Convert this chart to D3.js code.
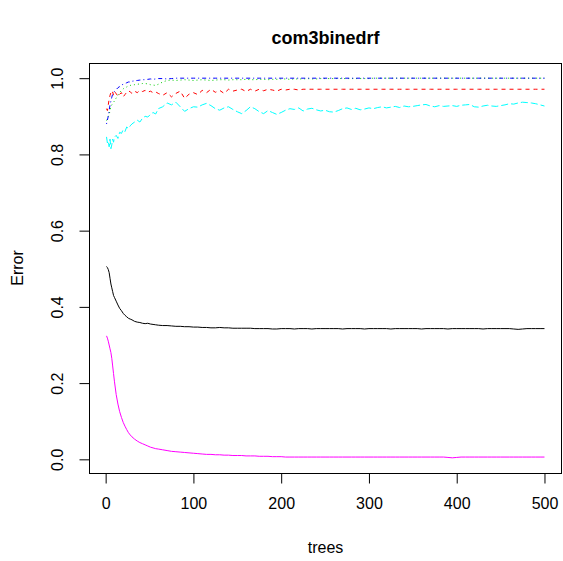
<!DOCTYPE html>
<html>
<head>
<meta charset="utf-8">
<script src="https://cdn.jsdelivr.net/npm/d3@7"></script>
<style>
  body { margin: 0; background: #fff; }
  svg { display: block; font-family: "Liberation Sans", Arial, sans-serif; }
</style>
</head>
<body>
<svg width="563" height="561"></svg>
<script>
// number of trees at each sampled point
var trees = [1,2,3,4,5,6,7,8,9,10,
  12,14,16,18,20,22,24,26,28,30,
  33,36,39,42,45,48,51,54,57,60,
  65,70,75,80,85,90,95,100,
  105,110,115,120,125,130,135,140,145,150,
  155,160,165,170,175,180,185,190,195,200,
  205,210,215,220,225,230,235,240,245,250,
  255,260,265,270,275,280,285,290,295,300,
  305,310,315,320,325,330,335,340,345,350,
  355,360,365,370,375,380,385,390,395,400,
  405,410,415,420,425,430,435,440,445,450,
  455,460,465,470,475,480,485,490,495,500];

var oobErr = [0.506,0.503,0.498,0.490,0.475,0.460,0.450,0.440,0.430,0.425,
  0.415,0.405,0.396,0.390,0.383,0.378,0.374,0.370,0.368,0.366,
  0.362,0.360,0.359,0.357,0.356,0.357,0.355,0.354,0.353,0.352,
  0.351,0.351,0.350,0.349,0.349,0.348,0.348,0.347,
  0.347,0.346,0.346,0.345,0.345,0.346,0.345,0.345,0.344,0.344,
  0.344,0.344,0.344,0.343,0.343,0.343,0.343,0.342,0.342,0.343,
  0.343,0.343,0.342,0.343,0.343,0.343,0.342,0.343,0.343,0.343,
  0.343,0.343,0.343,0.342,0.343,0.343,0.343,0.343,0.342,0.343,
  0.343,0.343,0.343,0.343,0.342,0.343,0.343,0.343,0.343,0.343,
  0.343,0.342,0.343,0.343,0.343,0.343,0.343,0.342,0.343,0.343,
  0.343,0.343,0.343,0.343,0.343,0.342,0.343,0.343,0.343,0.343,
  0.343,0.343,0.342,0.341,0.342,0.343,0.343,0.343,0.343,0.343];

var class1Err = [0.920,0.915,0.930,0.945,0.955,0.962,0.958,0.964,0.955,0.964,
  0.960,0.952,0.958,0.962,0.951,0.957,0.963,0.967,0.964,0.960,
  0.966,0.962,0.968,0.965,0.968,0.963,0.966,0.962,0.964,0.960,
  0.955,0.962,0.951,0.960,0.966,0.947,0.958,0.962,
  0.957,0.968,0.962,0.971,0.963,0.968,0.960,0.971,0.966,0.969,
  0.971,0.965,0.971,0.966,0.971,0.967,0.971,0.969,0.966,0.971,
  0.969,0.971,0.971,0.969,0.971,0.971,0.971,0.971,0.971,0.971,
  0.971,0.971,0.971,0.971,0.971,0.971,0.971,0.971,0.971,0.971,
  0.971,0.971,0.971,0.971,0.971,0.971,0.971,0.971,0.971,0.971,
  0.971,0.971,0.971,0.971,0.971,0.971,0.971,0.971,0.971,0.971,
  0.971,0.971,0.971,0.971,0.971,0.971,0.971,0.971,0.971,0.971,
  0.971,0.971,0.971,0.971,0.971,0.971,0.971,0.971,0.971,0.971];

var class2Err = [0.889,0.895,0.900,0.905,0.915,0.925,0.930,0.933,0.937,0.940,
  0.948,0.955,0.962,0.968,0.972,0.975,0.977,0.980,0.981,0.982,
  0.983,0.984,0.985,0.986,0.986,0.985,0.983,0.982,0.981,0.984,
  0.990,0.994,0.995,0.994,0.995,0.996,0.995,0.994,
  0.995,0.996,0.995,0.994,0.995,0.996,0.996,0.995,0.996,0.996,
  0.996,0.997,0.996,0.996,0.997,0.997,0.996,0.997,0.997,0.998,
  0.998,0.997,0.998,0.998,0.998,0.999,0.998,0.998,0.999,0.999,
  0.999,0.999,0.999,0.999,0.999,0.999,0.999,0.999,0.999,0.999,
  1,1,1,1,1,1,1,1,1,1,
  1,1,1,1,1,1,1,1,1,1,
  1,1,1,1,1,1,1,1,1,1,
  1,1,1,1,1,1,1,1,1,1];

var class3Err = [0.880,0.890,0.900,0.915,0.930,0.940,0.950,0.958,0.962,0.965,
  0.970,0.975,0.978,0.982,0.984,0.986,0.988,0.990,0.990,0.992,
  0.993,0.994,0.995,0.996,0.996,0.997,0.998,0.997,0.998,0.999,
  0.999,0.998,0.999,1,1,1,1,1,
  1,1,1,1,1,1,1,1,1,1,
  1,1,1,1,1,1,1,1,1,1,
  1,1,1,1,1,1,1,1,1,1,
  1,1,1,1,1,1,1,1,1,1,
  1,1,1,1,1,1,1,1,1,1,
  1,1,1,1,1,1,1,1,1,1,
  1,1,1,1,1,1,1,1,1,1,
  1,1,1,1,1,1,1,1,1,1];

var class4Err = [0.846,0.830,0.835,0.820,0.840,0.815,0.825,0.840,0.832,0.845,
  0.850,0.842,0.858,0.855,0.865,0.860,0.872,0.868,0.875,0.880,
  0.885,0.890,0.885,0.895,0.900,0.898,0.905,0.910,0.906,0.920,
  0.925,0.935,0.930,0.937,0.925,0.913,0.920,0.925,
  0.924,0.930,0.934,0.928,0.920,0.916,0.922,0.925,0.918,0.912,
  0.907,0.915,0.925,0.920,0.912,0.907,0.915,0.910,0.905,0.910,
  0.916,0.920,0.918,0.922,0.914,0.919,0.921,0.917,0.914,0.916,
  0.912,0.911,0.915,0.920,0.922,0.918,0.921,0.917,0.919,0.922,
  0.920,0.923,0.925,0.922,0.924,0.926,0.923,0.927,0.925,0.926,
  0.928,0.930,0.931,0.927,0.925,0.928,0.926,0.927,0.928,0.926,
  0.929,0.930,0.931,0.925,0.924,0.927,0.929,0.927,0.926,0.928,
  0.930,0.933,0.932,0.935,0.937,0.936,0.935,0.933,0.930,0.927];

var class5Err = [0.324,0.318,0.310,0.300,0.290,0.280,0.265,0.245,0.225,0.205,
  0.170,0.145,0.125,0.110,0.097,0.087,0.078,0.070,0.064,0.059,
  0.053,0.048,0.044,0.041,0.038,0.035,0.032,0.030,0.028,0.027,
  0.025,0.023,0.021,0.020,0.019,0.018,0.017,0.016,
  0.015,0.014,0.013,0.013,0.012,0.012,0.011,0.011,0.010,0.010,
  0.010,0.009,0.009,0.009,0.008,0.008,0.008,0.007,0.007,0.007,
  0.006,0.006,0.006,0.006,0.006,0.006,0.006,0.006,0.006,0.006,
  0.006,0.006,0.006,0.006,0.006,0.006,0.006,0.006,0.006,0.006,
  0.006,0.006,0.006,0.006,0.006,0.006,0.006,0.006,0.006,0.006,
  0.006,0.006,0.006,0.006,0.006,0.006,0.006,0.005,0.004,0.005,
  0.006,0.006,0.006,0.006,0.006,0.006,0.006,0.006,0.006,0.006,
  0.006,0.006,0.006,0.006,0.006,0.006,0.006,0.006,0.006,0.006];

var xTicks = [0, 100, 200, 300, 400, 500];
var yTicks = [0, 0.2, 0.4, 0.6, 0.8, 1.0];

// matplot default colours and line types, in column order
var series = [
  {values: oobErr,    color: "#000000", dash: null},
  {values: class1Err, color: "#FF0000", dash: "4,4"},
  {values: class2Err, color: "#00CD00", dash: "1,3"},
  {values: class3Err, color: "#0000FF", dash: "1,3,4,3"},
  {values: class4Err, color: "#00FFFF", dash: "7,3"},
  {values: class5Err, color: "#FF00FF", dash: null}
];

var plotLeft = 89, plotRight = 562, plotTop = 63, plotBottom = 473;
var svg = d3.select("svg");

// R style 4% padding on both axes
var xMin = d3.min(trees), xMax = d3.max(trees);
var xPad = (xMax - xMin) * 0.04;
var x = d3.scaleLinear().domain([xMin - xPad, xMax + xPad]).range([plotLeft, plotRight]);

var allVals = d3.merge(series.map(function(s){ return s.values }));
var yMin = d3.min(allVals), yMax = d3.max(allVals);
var yPad = (yMax - yMin) * 0.04;
var y = d3.scaleLinear().domain([yMin - yPad, yMax + yPad]).range([plotBottom, plotTop]);

var line = d3.line()
  .x(function(d, i){ return x(trees[i]) })
  .y(function(d){ return y(d) });

svg.append("g")
  .attr("class", "lines")
  .selectAll("path")
  .data(series)
  .enter()
  .append("path")
    .attr("d", function(s){ return line(s.values) })
    .attr("fill", "none")
    .attr("stroke", function(s){ return s.color })
    .attr("stroke-width", 1)
    .attr("stroke-dasharray", function(s){ return s.dash });

// plot box
svg.append("rect")
  .attr("x", plotLeft + 0.5)
  .attr("y", plotTop + 0.5)
  .attr("width", plotRight - plotLeft - 1)
  .attr("height", plotBottom - plotTop)
  .attr("fill", "none")
  .attr("stroke", "#000");

var xAxis = svg.append("g")
  .attr("transform", "translate(0," + (plotBottom + 0.5) + ")")
  .call(d3.axisBottom(x).tickValues(xTicks).tickSize(10).tickPadding(14).tickSizeOuter(0));
xAxis.select(".domain")
  .attr("d", "M" + x(xTicks[0]) + ",0H" + x(xTicks[xTicks.length - 1]));

var yAxis = svg.append("g")
  .attr("transform", "translate(" + (plotLeft + 0.5) + ",0)")
  .call(d3.axisLeft(y).tickValues(yTicks).tickSize(10).tickFormat(d3.format(".1f")).tickSizeOuter(0));
yAxis.select(".domain")
  .attr("d", "M0," + y(yTicks[0]) + "V" + y(yTicks[yTicks.length - 1]));
yAxis.selectAll(".tick text")
  .attr("x", null).attr("dy", null)
  .attr("text-anchor", "middle")
  .attr("transform", "translate(-27,0) rotate(-90)");

svg.selectAll(".tick text")
  .attr("font-size", 16)
  .attr("font-family", "Liberation Sans, Arial, sans-serif")
  .attr("fill", "#000");
svg.selectAll(".tick line, .domain").attr("stroke", "#000");

svg.append("text")
  .attr("x", (plotLeft + plotRight) / 2)
  .attr("y", 44)
  .attr("text-anchor", "middle")
  .attr("font-size", 18)
  .attr("font-weight", "bold")
  .text("com3binedrf");

svg.append("text")
  .attr("x", (plotLeft + plotRight) / 2)
  .attr("y", 553)
  .attr("text-anchor", "middle")
  .attr("font-size", 16)
  .text("trees");

svg.append("text")
  .attr("transform", "translate(23," + ((plotTop + plotBottom) / 2) + ") rotate(-90)")
  .attr("text-anchor", "middle")
  .attr("font-size", 16)
  .text("Error");
</script>
</body>
</html>
